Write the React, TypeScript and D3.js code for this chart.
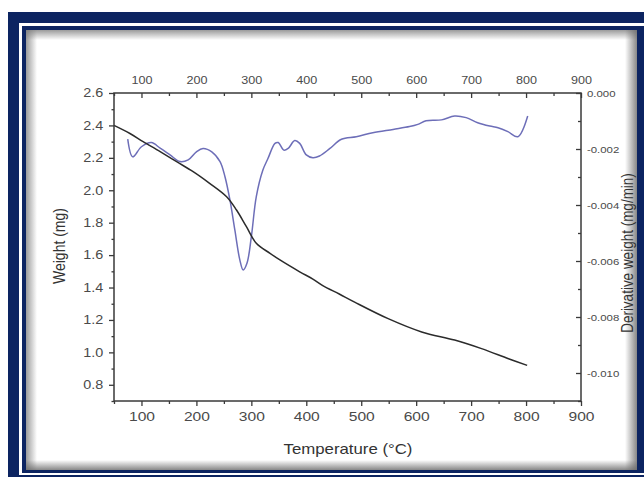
import * as React from 'react';
import * as d3 from 'd3';

// axis ticks
const temperatureTicks = [100, 200, 300, 400, 500, 600, 700, 800, 900];
const temperatureMinor = [50, 150, 250, 350, 450, 550, 650, 750, 850];
const weightTicks = [0.8, 1.0, 1.2, 1.4, 1.6, 1.8, 2.0, 2.2, 2.4, 2.6];
const weightMinor = [0.7, 0.9, 1.1, 1.3, 1.5, 1.7, 1.9, 2.1, 2.3, 2.5];
const derivTicks = [0, -0.002, -0.004, -0.006, -0.008, -0.010];
const derivMinor = [-0.001, -0.003, -0.005, -0.007, -0.009, -0.011];

// TG curve (weight, mg)
const tgTemps = [50, 79, 103, 134, 164, 194, 224, 255, 273, 291, 309, 334, 352, 388, 412, 430, 460, 488, 549, 610, 670, 719, 768, 802];
const tgWeights = [2.40, 2.35, 2.30, 2.238, 2.176, 2.115, 2.043, 1.96, 1.878, 1.775, 1.673, 1.611, 1.57, 1.497, 1.452, 1.412, 1.36, 1.31, 1.208, 1.126, 1.076, 1.023, 0.961, 0.92];

// DTG curve (derivative weight, mg/min)
const dtgTemps = [75, 84, 100, 118, 134, 152, 170, 185, 200, 212, 228, 243, 252, 261, 270, 279, 285, 292, 300, 309, 321, 330, 343, 349, 359, 367, 379, 388, 400, 412, 424, 443, 464, 491, 521, 558, 588, 603, 618, 646, 670, 691, 712, 734, 749, 767, 785, 803];
const dtgValues = [-0.00165, -0.00228, -0.00192, -0.00177, -0.00197, -0.00221, -0.00245, -0.00239, -0.0021, -0.00198, -0.0021, -0.00245, -0.00299, -0.00382, -0.0049, -0.00596, -0.00632, -0.00608, -0.00513, -0.0037, -0.00275, -0.00235, -0.0018, -0.00177, -0.00204, -0.00198, -0.0017, -0.0018, -0.00221, -0.00231, -0.00225, -0.00198, -0.00165, -0.00156, -0.00142, -0.0013, -0.0012, -0.00112, -0.00099, -0.00096, -0.00082, -0.00088, -0.00106, -0.00118, -0.00124, -0.00138, -0.00156, -0.00082];

const W = 644;
const H = 477;
const plot = { left: 114, right: 581, top: 93, bottom: 401 };

const navy = '#0c2461';
const axisColor = '#3a3a3a';
const labelColor = '#4a4a4a';
const font = '"Liberation Sans", Arial, sans-serif';
const stretch = 'scale(1.2,1)';

const x = d3.scaleLinear().domain([50, 900]).range([plot.left, plot.right]);
const yW = d3.scaleLinear().domain([0.7, 2.6]).range([plot.bottom, plot.top]);
const yD = d3.scaleLinear().domain([-0.011, 0]).range([plot.bottom, plot.top]);

const tgLine = d3.line<number>()
    .curve(d3.curveCatmullRom.alpha(0.5))
    .x((_, i) => x(tgTemps[i]))
    .y(d => yW(d));

const dtgLine = d3.line<number>()
    .curve(d3.curveCatmullRom.alpha(0.5))
    .x((_, i) => x(dtgTemps[i]))
    .y(d => yD(d));

function styleAxis(sel: d3.Selection<SVGGElement, unknown, null, undefined>, size: number) {
    sel.attr('font-family', font).attr('font-size', size);
    sel.select('.domain').remove();
    sel.selectAll('line').attr('stroke', axisColor).attr('stroke-width', 1.3);
    sel.selectAll('text').attr('fill', labelColor).attr('transform', stretch);
}

export default function App() {
    const axesRef = React.useRef<SVGGElement | null>(null);

    React.useEffect(() => {
        const g = d3.select(axesRef.current!);
        g.selectAll('*').remove();
        const none = () => '';
        const fmtD = (d: any) => d3.format('.3f')(d).replace('\u2212', '-');

        // left: weight
        styleAxis(g.append('g').attr('transform', `translate(${plot.left},0)`)
            .call(d3.axisLeft(yW).tickValues(weightTicks).tickSize(5).tickPadding(4).tickFormat(d3.format('.1f'))), 12);
        styleAxis(g.append('g').attr('transform', `translate(${plot.left},0)`)
            .call(d3.axisLeft(yW).tickValues(weightMinor).tickSize(2.5).tickFormat(none)), 12);

        // bottom: temperature
        styleAxis(g.append('g').attr('transform', `translate(0,${plot.bottom})`)
            .call(d3.axisBottom(x).tickValues(temperatureTicks).tickSize(5).tickPadding(6)), 13);
        styleAxis(g.append('g').attr('transform', `translate(0,${plot.bottom})`)
            .call(d3.axisBottom(x).tickValues(temperatureMinor).tickSize(3).tickFormat(none)), 13);

        // top: temperature, ticks inward
        styleAxis(g.append('g').attr('transform', `translate(0,${plot.top})`)
            .call(d3.axisTop(x).tickValues(temperatureTicks).tickSize(-5).tickPadding(9)), 10.5);
        styleAxis(g.append('g').attr('transform', `translate(0,${plot.top})`)
            .call(d3.axisTop(x).tickValues(temperatureMinor).tickSize(-3).tickFormat(none)), 10.5);

        // right: derivative weight, ticks inward
        styleAxis(g.append('g').attr('transform', `translate(${plot.right},0)`)
            .call(d3.axisRight(yD).tickValues(derivTicks).tickSize(-5).tickPadding(5).tickFormat(fmtD)), 9.5);
        styleAxis(g.append('g').attr('transform', `translate(${plot.right},0)`)
            .call(d3.axisRight(yD).tickValues(derivMinor).tickSize(-3).tickFormat(none)), 9.5);
    }, []);

    return (
        <div style={{ position: 'absolute', left: 0, top: 0 }}>
            <svg width={W} height={H} style={{ display: 'block', background: '#fff' }}>
                <defs>
                    <linearGradient id="shL" x1="0" y1="0" x2="1" y2="0">
                        <stop offset="0" stopColor="#7a7a7a" stopOpacity={0.75} />
                        <stop offset="1" stopColor="#7a7a7a" stopOpacity={0} />
                    </linearGradient>
                    <linearGradient id="shR" x1="1" y1="0" x2="0" y2="0">
                        <stop offset="0" stopColor="#6a6a6a" stopOpacity={0.8} />
                        <stop offset="1" stopColor="#6a6a6a" stopOpacity={0} />
                    </linearGradient>
                    <linearGradient id="shT" x1="0" y1="0" x2="0" y2="1">
                        <stop offset="0" stopColor="#7a7a7a" stopOpacity={0.75} />
                        <stop offset="1" stopColor="#7a7a7a" stopOpacity={0} />
                    </linearGradient>
                    <linearGradient id="shB" x1="0" y1="1" x2="0" y2="0">
                        <stop offset="0" stopColor="#6a6a6a" stopOpacity={0.8} />
                        <stop offset="1" stopColor="#6a6a6a" stopOpacity={0} />
                    </linearGradient>
                </defs>

                {/* frame */}
                <rect x={8} y={12} width={W} height={H} fill={navy} />
                <rect x={19} y={23} width={W} height={475 - 23} fill="#fff" />
                <rect x={22} y={26} width={W} height={473 - 26} fill={navy} />
                <rect x={26} y={30} width={637 - 26} height={470 - 30} fill="#fff" />
                <rect x={26} y={30} width={11} height={440} fill="url(#shL)" />
                <rect x={26} y={30} width={611} height={10} fill="url(#shT)" />
                <rect x={625} y={30} width={12} height={440} fill="url(#shR)" />
                <rect x={26} y={460} width={611} height={10} fill="url(#shB)" />

                {/* curves */}
                <path d={dtgLine(dtgValues) || ''} fill="none" stroke="#6d6eb8" strokeWidth={1.5} strokeLinejoin="round" />
                <path d={tgLine(tgWeights) || ''} fill="none" stroke="#2b2b2b" strokeWidth={1.5} strokeLinejoin="round" />

                {/* axes */}
                <rect x={plot.left} y={plot.top} width={plot.right - plot.left} height={plot.bottom - plot.top}
                    fill="none" stroke={axisColor} strokeWidth={1.5} />
                <g ref={axesRef} />

                {/* titles */}
                <text transform={`translate(348,454) ${stretch}`} textAnchor="middle" fontFamily={font} fontSize={14} fill="#333">
                    Temperature (°C)
                </text>
                <text transform="translate(65,246) rotate(-90) scale(1,1.2)" textAnchor="middle" fontFamily={font} fontSize={14} fill="#333">
                    Weight (mg)
                </text>
                <text transform="translate(633,253) rotate(-90) scale(1,1.2)" textAnchor="middle" fontFamily={font} fontSize={13.5} fill="#333">
                    Derivative weight (mg/min)
                </text>
            </svg>
        </div>
    );
}
